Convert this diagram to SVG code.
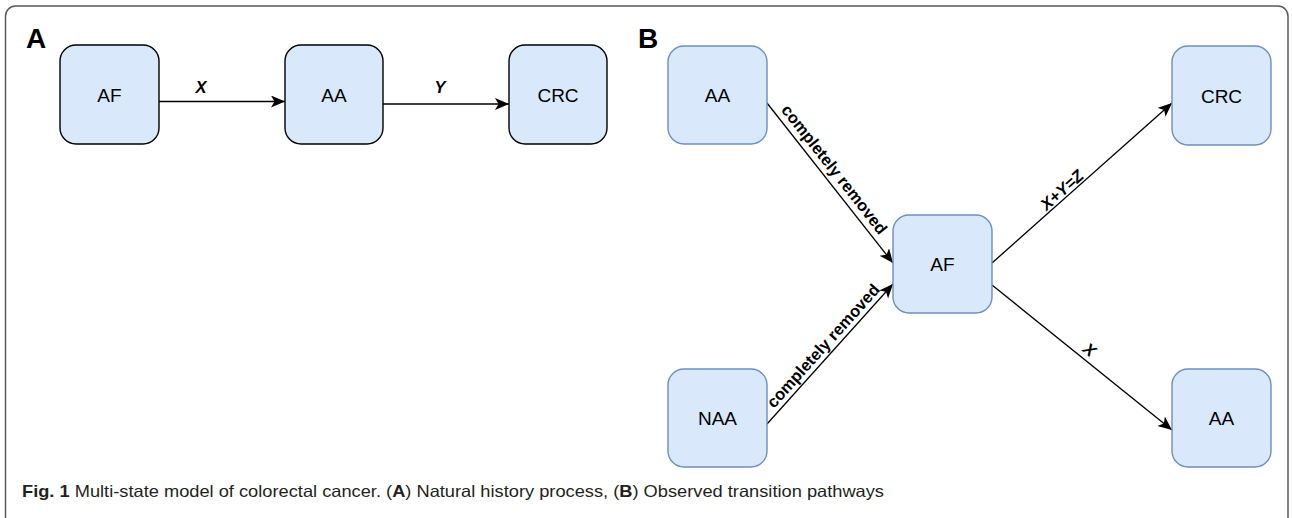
<svg xmlns="http://www.w3.org/2000/svg" width="1292" height="518" viewBox="0 0 1292 518">
<style>
.frame{fill:#fff;stroke:#5a5a5a;stroke-width:1.5}
.na{fill:#dae8fc;stroke:#000;stroke-width:1.4}
.nb{fill:#dae8fc;stroke:#6c8ebf;stroke-width:1.4}
.nt{font-family:"Liberation Sans",Arial,sans-serif;font-size:19px;fill:#000;text-anchor:middle}
.pl{font-family:"Liberation Sans",Arial,sans-serif;font-size:28px;font-weight:bold;fill:#000}
.el{font-family:"Liberation Sans",Arial,sans-serif;font-size:16.5px;font-weight:bold;fill:#000;text-anchor:middle}
.it{font-style:italic}
.ed{fill:none;stroke:#000;stroke-width:1.3;marker-end:url(#arr)}
.cap{font-family:"Liberation Sans",Arial,sans-serif;font-size:16.5px;fill:#231f20}
</style>
<defs>
<marker id="arr" markerUnits="userSpaceOnUse" markerWidth="16" markerHeight="14" refX="14" refY="6" orient="auto">
<path d="M0,0 L14,6 L0,12 L3.5,6 Z" fill="#000"/>
</marker>
</defs>
<rect class="frame" x="5.5" y="6" width="1282.5" height="530" rx="10"/>
<text class="pl" x="26" y="48">A</text>
<text class="pl" x="638" y="48">B</text>
<g id="connectors">
<line class="ed" x1="159" y1="101.5" x2="285" y2="101.5"/>
<line class="ed" x1="383" y1="104" x2="509" y2="104"/>
<line class="ed" x1="767" y1="103" x2="893" y2="263"/>
<line class="ed" x1="767" y1="424" x2="893" y2="284"/>
<line class="ed" x1="992" y1="263" x2="1172" y2="103"/>
<line class="ed" x1="992" y1="285" x2="1172" y2="430"/>
<text class="el it" x="201" y="93">X</text>
<text class="el it" x="440" y="93">Y</text>
<text class="el" transform="translate(826,176) rotate(51.8)" x="0" y="-5">completely removed</text>
<text class="el" transform="translate(831,353) rotate(-48)" x="0" y="-5">completely removed</text>
<text class="el it" transform="translate(1069,198) rotate(-41.6)" x="0" y="-5">X+Y=Z</text>
<text class="el it" transform="translate(1083,358) rotate(38.9)" x="0" y="-5">X</text>
</g>
<g id="a-af"><rect class="na" x="60" y="45" width="99" height="99" rx="16"/><text class="nt" x="109.5" y="101.5">AF</text></g>
<g id="a-aa"><rect class="na" x="285" y="45" width="98" height="99" rx="16"/><text class="nt" x="334" y="101.5">AA</text></g>
<g id="a-crc"><rect class="na" x="509" y="45" width="98" height="99" rx="16"/><text class="nt" x="558" y="101.5">CRC</text></g>
<g id="b-aa"><rect class="nb" x="668" y="46" width="99" height="98" rx="16"/><text class="nt" x="717.5" y="102">AA</text></g>
<g id="b-naa"><rect class="nb" x="668" y="369" width="99" height="98" rx="16"/><text class="nt" x="717.5" y="425">NAA</text></g>
<g id="b-af"><rect class="nb" x="893" y="215" width="99" height="98" rx="16"/><text class="nt" x="942.5" y="271">AF</text></g>
<g id="b-crc"><rect class="nb" x="1172" y="46" width="99" height="99" rx="16"/><text class="nt" x="1221.5" y="102.5">CRC</text></g>
<g id="b-aa2"><rect class="nb" x="1172" y="369" width="99" height="98" rx="16"/><text class="nt" x="1221.5" y="425">AA</text></g>
<text class="cap" x="22" y="497" textLength="862" lengthAdjust="spacingAndGlyphs"><tspan font-weight="bold">Fig. 1</tspan> Multi-state model of colorectal cancer. (<tspan font-weight="bold">A</tspan>) Natural history process, (<tspan font-weight="bold">B</tspan>) Observed transition pathways</text>
</svg>
